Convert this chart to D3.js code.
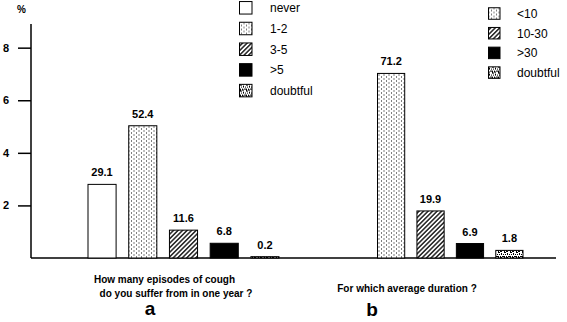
<!DOCTYPE html>
<html>
<head>
<meta charset="utf-8">
<script src="https://cdn.jsdelivr.net/npm/d3@7"></script>
<style>
  body { margin: 0; background: #fff; }
  text { fill: #000; }
</style>
</head>
<body>
<svg width="567" height="322"></svg>
<script>
// a: how many episodes per year
var catsA = ["never", "1-2", "3-5", ">5", "doubtful"];
var labelsA = ["29.1", "52.4", "11.6", "6.8", "0.2"];
var heightsA = [2.8, 5.03, 1.06, 0.56, 0.05];   // bar heights as read on the axis
// b: average duration
var catsB = ["<10", "10-30", ">30", "doubtful"];
var labelsB = ["71.2", "19.9", "6.9", "1.8"];
var heightsB = [7.02, 1.79, 0.55, 0.29];
var yTicks = [2, 4, 6, 8];

var fills = {
  "never": "#fff", "1-2": "url(#dots)", "3-5": "url(#hatch)", ">5": "#000",
  "doubtful": "url(#noise)", "<10": "url(#dots)", "10-30": "url(#hatch)", ">30": "#000"
};

var svg = d3.select("svg");
var defs = svg.append("defs");

// dotted pattern
var dots = defs.append("pattern").attr("id", "dots")
    .attr("patternUnits", "userSpaceOnUse").attr("width", 5).attr("height", 4);
dots.append("rect").attr("width", 5).attr("height", 4).attr("fill", "#fff");
dots.append("rect").attr("x", 1).attr("y", 0.5).attr("width", 1).attr("height", 1).attr("fill", "#000");
dots.append("rect").attr("x", 3.5).attr("y", 2.5).attr("width", 1).attr("height", 1).attr("fill", "#000");

// diagonal hatch
var hatch = defs.append("pattern").attr("id", "hatch")
    .attr("patternUnits", "userSpaceOnUse").attr("width", 3.2).attr("height", 3.2)
    .attr("patternTransform", "rotate(45)");
hatch.append("rect").attr("width", 3.2).attr("height", 3.2).attr("fill", "#fff");
hatch.append("line").attr("x1", 0.8).attr("x2", 0.8).attr("y1", 0).attr("y2", 3.2)
    .attr("stroke", "#000").attr("stroke-width", 1.3);

// irregular "doubtful" texture
var noise = defs.append("pattern").attr("id", "noise")
    .attr("patternUnits", "userSpaceOnUse").attr("width", 6).attr("height", 6);
noise.append("rect").attr("width", 6).attr("height", 6).attr("fill", "#fff");
[[0,0,2,1],[3,1,1,2],[1,2,1,1],[4,4,2,1],[0,4,1,2],[2,4,1,1],[5,2,1,1],[2,5,2,1]].forEach(function(r) {
  noise.append("rect").attr("x", r[0]).attr("y", r[1]).attr("width", r[2]).attr("height", r[3]).attr("fill", "#000");
});

var y = d3.scaleLinear().domain([0, 8.9]).range([258, 24]);

var xA = d3.scaleBand().domain(catsA).range([88, 279]).paddingInner(0.31).paddingOuter(0);
var xB = d3.scaleBand().domain(catsB).range([377.5, 523]).paddingInner(0.31).paddingOuter(0);

// y axis
var axis = svg.append("g")
    .attr("transform", "translate(31,0)")
    .call(d3.axisLeft(y).tickValues(yTicks).tickSize(13).tickPadding(9).tickFormat(d3.format("d")));
axis.select(".domain").remove();
axis.selectAll(".tick line").attr("stroke", "#000").attr("stroke-width", 1.5);
axis.selectAll(".tick text")
    .style("font-family", "'Liberation Sans', Arial, sans-serif")
    .style("font-weight", "bold").style("font-size", "11px").attr("fill", "#000");
svg.append("line").attr("x1", 31).attr("x2", 31).attr("y1", y(8.9)).attr("y2", y(0))
    .attr("stroke", "#000").attr("stroke-width", 1.5);
svg.append("line").attr("x1", 31).attr("x2", 556).attr("y1", y(0)).attr("y2", y(0))
    .attr("stroke", "#000").attr("stroke-width", 1.5);
svg.append("text").attr("x", 17).attr("y", 13).text("%")
    .style("font-family", "'Liberation Sans', Arial, sans-serif")
    .style("font-weight", "bold").style("font-size", "10px");

function drawBars(cats, heights, labels, x) {
  var g = svg.append("g");
  g.selectAll("rect").data(cats).join("rect")
      .attr("x", function(d) { return x(d); })
      .attr("width", x.bandwidth())
      .attr("y", function(d, i) { return y(heights[i]); })
      .attr("height", function(d, i) { return y(0) - y(heights[i]); })
      .attr("fill", function(d) { return fills[d]; })
      .attr("stroke", "#000").attr("stroke-width", 1);
  g.selectAll("text").data(cats).join("text")
      .attr("x", function(d) { return x(d) + x.bandwidth() / 2; })
      .attr("y", function(d, i) { return y(heights[i]) - 8; })
      .attr("text-anchor", "middle")
      .style("font-family", "'Liberation Sans', Arial, sans-serif")
      .style("font-weight", "bold").style("font-size", "11px")
      .text(function(d, i) { return labels[i]; });
}
drawBars(catsA, heightsA, labelsA, xA);
drawBars(catsB, heightsB, labelsB, xB);

function drawLegend(cats, bx, tx, y0, step, size) {
  var g = svg.append("g");
  var row = g.selectAll("g").data(cats).join("g")
      .attr("transform", function(d, i) { return "translate(0," + (y0 + i * step) + ")"; });
  row.append("rect")
      .attr("x", bx).attr("y", -size / 2).attr("width", size).attr("height", size)
      .attr("fill", function(d) { return fills[d]; })
      .attr("stroke", "#000").attr("stroke-width", 1);
  row.append("text")
      .attr("x", tx).attr("y", 4.5)
      .style("font-family", "'Liberation Sans', Arial, sans-serif")
      .style("font-size", "12px")
      .text(function(d) { return d; });
}
drawLegend(catsA, 239.5, 270, 7.8, 20.7, 12.5);
drawLegend(catsB, 488.5, 517, 13.5, 19.7, 11.5);

// question captions
var caption = svg.append("g")
    .style("font-family", "'Liberation Sans', Arial, sans-serif")
    .style("font-weight", "bold").style("font-size", "10px")
    .attr("text-anchor", "middle");
caption.append("text").attr("x", 164.5).attr("y", 283).text("How many episodes of cough");
caption.append("text").attr("x", 176).attr("y", 297).text("do you suffer from in one year ?");
caption.append("text").attr("x", 407).attr("y", 291.5).text("For which average duration ?");

var panel = svg.append("g")
    .style("font-family", "'Liberation Sans', Arial, sans-serif")
    .style("font-weight", "bold").style("font-size", "19px")
    .attr("text-anchor", "middle");
panel.append("text").attr("x", 150).attr("y", 315).text("a");
panel.append("text").attr("x", 372).attr("y", 316).text("b");
</script>
</body>
</html>
